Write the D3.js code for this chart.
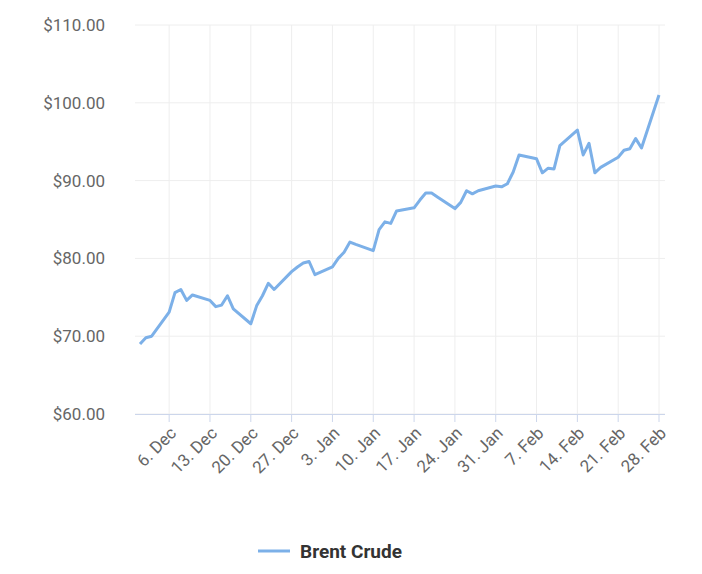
<!DOCTYPE html>
<html><head><meta charset="utf-8">
<script src="https://d3js.org/d3.v7.min.js"></script>
<style>body{margin:0;background:#fff;font-family:Roboto,sans-serif}</style>
</head><body><svg id="c" width="702" height="574"></svg>
<script>
const dates = ["2021-12-01","2021-12-02","2021-12-03","2021-12-06","2021-12-07","2021-12-08","2021-12-09","2021-12-10",
"2021-12-13","2021-12-14","2021-12-15","2021-12-16","2021-12-17","2021-12-20","2021-12-21","2021-12-22","2021-12-23","2021-12-24",
"2021-12-27","2021-12-28","2021-12-29","2021-12-30","2021-12-31","2022-01-03","2022-01-04","2022-01-05","2022-01-06","2022-01-07",
"2022-01-10","2022-01-11","2022-01-12","2022-01-13","2022-01-14","2022-01-17","2022-01-18","2022-01-19","2022-01-20","2022-01-21",
"2022-01-24","2022-01-25","2022-01-26","2022-01-27","2022-01-28","2022-01-31","2022-02-01","2022-02-02","2022-02-03","2022-02-04",
"2022-02-07","2022-02-08","2022-02-09","2022-02-10","2022-02-11","2022-02-14","2022-02-15","2022-02-16","2022-02-17","2022-02-18",
"2022-02-21","2022-02-22","2022-02-23","2022-02-24","2022-02-25","2022-02-28"];
const prices = [69.0,69.8,70.0,73.1,75.6,76.0,74.6,75.3,
74.6,73.8,74.0,75.2,73.5,71.6,73.9,75.2,76.8,76.0,
78.3,78.9,79.4,79.6,77.9,78.9,80.0,80.8,82.1,81.8,
81.0,83.7,84.7,84.5,86.1,86.5,87.5,88.4,88.4,87.9,
86.4,87.2,88.7,88.3,88.7,89.3,89.2,89.6,91.1,93.3,
92.8,91.0,91.6,91.5,94.5,96.5,93.3,94.8,91.0,91.7,
93.0,93.9,94.1,95.4,94.2,101.0];
const yTicks = [60,70,80,90,100,110];
const xTickDates = ["2021-12-06","2021-12-13","2021-12-20","2021-12-27","2022-01-03","2022-01-10","2022-01-17",
"2022-01-24","2022-01-31","2022-02-07","2022-02-14","2022-02-21","2022-02-28"];
const seriesName = "Brent Crude";

const parse = d3.timeParse("%Y-%m-%d");
const data = dates.map((d,i)=>({date:parse(d), v:prices[i]}));
const xTicks = xTickDates.map(parse);
const svg = d3.select("#c");
const pLeft=135, pRight=665, pTop=25, pBottom=414;
const x = d3.scaleTime().domain([parse("2021-12-01"),parse("2022-02-28")]).range([140,659]);
const y = d3.scaleLinear().domain([60,110]).range([pBottom,pTop]);

svg.append("g").selectAll("line").data(yTicks).join("line")
  .attr("x1",pLeft).attr("x2",pRight).attr("y1",d=>y(d)).attr("y2",d=>y(d))
  .attr("stroke","#eeeeee");
svg.append("g").selectAll("line").data(xTicks).join("line")
  .attr("x1",d=>x(d)).attr("x2",d=>x(d)).attr("y1",pTop).attr("y2",pBottom)
  .attr("stroke","#eeeeee");

svg.append("g").selectAll("text").data(yTicks).join("text")
  .attr("x",105).attr("y",d=>y(d)+6).attr("text-anchor","end")
  .attr("font-size",17).attr("fill","#666").text(d=>"$"+d.toFixed(2));

svg.append("line").attr("x1",pLeft).attr("x2",pRight).attr("y1",pBottom+0.5).attr("y2",pBottom+0.5)
  .attr("stroke","#ccd6eb");
const fmt = d3.timeFormat("%-d. %b");
const xl = svg.append("g").selectAll("g").data(xTicks).join("g")
  .attr("transform",d=>`translate(${x(d)+4},${pBottom+16}) rotate(-45)`);
xl.append("text").attr("text-anchor","end").attr("font-size",17).attr("fill","#666")
  .attr("dy","0.35em").text(d=>fmt(d));
svg.append("g").selectAll("line").data(xTicks).join("line")
  .attr("x1",d=>x(d)).attr("x2",d=>x(d)).attr("y1",pBottom).attr("y2",pBottom+8).attr("stroke","#ccd6eb");

svg.append("path").datum(data)
  .attr("d",d3.line().x(d=>x(d.date)).y(d=>y(d.v)))
  .attr("fill","none").attr("stroke","#7cb0e8").attr("stroke-width",3).attr("stroke-linejoin","round");

const lg = svg.append("g").attr("transform","translate(258,551)");
lg.append("line").attr("x1",0).attr("x2",32).attr("stroke","#7cb0e8").attr("stroke-width",3);
lg.append("text").attr("x",42).attr("dy","0.35em").attr("font-size",19).attr("font-weight","bold")
  .attr("fill","#333").text(seriesName);
</script></body></html>
